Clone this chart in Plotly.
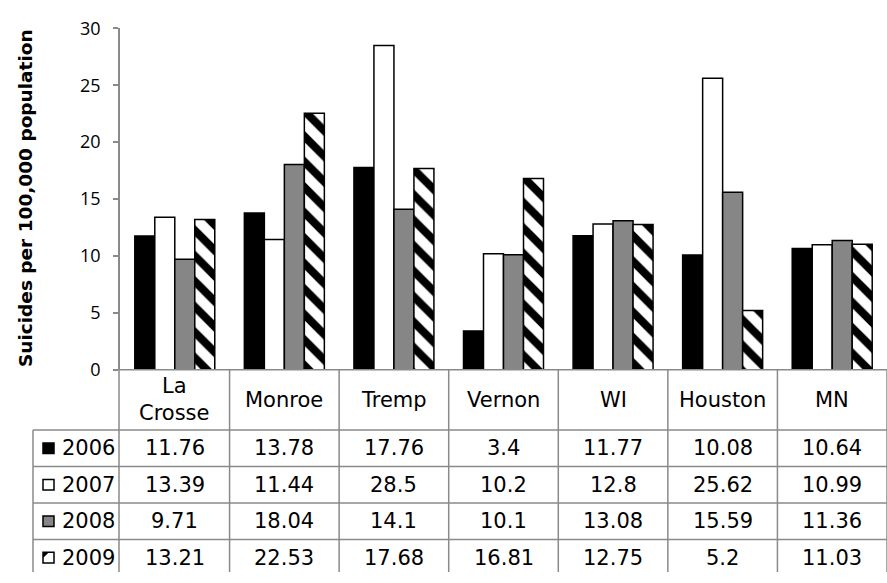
import plotly.graph_objects as go

# Suicide rates per 100,000 population by area and year
categories = ["La Crosse", "Monroe", "Tremp", "Vernon", "WI", "Houston", "MN"]
years = ["2006", "2007", "2008", "2009"]
rates_2006 = [11.76, 13.78, 17.76, 3.4, 11.77, 10.08, 10.64]
rates_2007 = [13.39, 11.44, 28.5, 10.2, 12.8, 25.62, 10.99]
rates_2008 = [9.71, 18.04, 14.1, 10.1, 13.08, 15.59, 11.36]
rates_2009 = [13.21, 22.53, 17.68, 16.81, 12.75, 5.2, 11.03]
series = [rates_2006, rates_2007, rates_2008, rates_2009]
y_ticks = [0, 5, 10, 15, 20, 25, 30]

W, H = 887, 583
GRID = "#8a8a8a"
TABLE_FONT = dict(family="DejaVu Sans", size=21, color="black")

# plot area and table layout, in pixels
PLOT_L, PLOT_T, PLOT_B = 120, 16, 372
HEAD_B = 435
ROW_H = 38
LEG_L = 33


def px(x):
    return x / W


def py(y):
    return 1 - y / H


fills = ["#000000", "#ffffff", "#868686", "#ffffff"]

fig = go.Figure()
for i, (yr, vals) in enumerate(zip(years, series)):
    marker = dict(color=fills[i], line=dict(color="black", width=1.5))
    if i == 3:
        marker["pattern"] = dict(shape="\\", fgcolor="black", bgcolor="white",
                                 fgopacity=1, size=18, solidity=0.45,
                                 fillmode="overlay")
    fig.add_bar(x=categories, y=vals, name=yr, marker=marker, showlegend=False)

shapes = []
annotations = []

# table top border (category axis line)
shapes.append(dict(type="line", xref="paper", yref="paper",
                   x0=px(PLOT_L - 1), x1=1, y0=py(PLOT_B), y1=py(PLOT_B),
                   line=dict(color=GRID, width=1.5)))
# y-axis line continued down through the table
shapes.append(dict(type="line", xref="paper", yref="paper",
                   x0=px(PLOT_L - 1), x1=px(PLOT_L - 1), y0=py(PLOT_T), y1=0,
                   line=dict(color=GRID, width=1.5)))
# column separators
for k in range(1, len(categories) + 1):
    shapes.append(dict(type="line", xref="x", yref="paper",
                       x0=k - 0.5, x1=k - 0.5, y0=py(PLOT_B), y1=0,
                       line=dict(color=GRID, width=1.5)))
# row separators
for r in range(len(years)):
    yy = HEAD_B + r * ROW_H
    shapes.append(dict(type="line", xref="paper", yref="paper",
                       x0=px(LEG_L), x1=1, y0=py(yy), y1=py(yy),
                       line=dict(color=GRID, width=1.5)))
# legend column left border
shapes.append(dict(type="line", xref="paper", yref="paper",
                   x0=px(LEG_L), x1=px(LEG_L), y0=py(HEAD_B), y1=0,
                   line=dict(color=GRID, width=1.5)))

# header row: category names
for c in categories:
    annotations.append(dict(x=c, y=py((PLOT_B + HEAD_B) / 2), xref="x", yref="paper",
                            text=c.replace(" ", "<br>"), showarrow=False,
                            font=TABLE_FONT, xanchor="center", yanchor="middle"))

# data rows with legend keys
for r, (yr, vals) in enumerate(zip(years, series)):
    cy = HEAD_B + r * ROW_H + ROW_H / 2
    for c, v in zip(categories, vals):
        annotations.append(dict(x=c, y=py(cy), xref="x", yref="paper",
                                text=f"{v:g}", showarrow=False, font=TABLE_FONT,
                                xanchor="center", yanchor="middle"))
    annotations.append(dict(x=px(60), y=py(cy), xref="paper", yref="paper",
                            text=yr, showarrow=False, font=TABLE_FONT,
                            xanchor="left", yanchor="middle"))
    k0, k1 = 43, 54
    shapes.append(dict(type="rect", xref="paper", yref="paper",
                       x0=px(k0), x1=px(k1), y0=py(cy - 5.5), y1=py(cy + 5.5),
                       fillcolor=fills[r], line=dict(color="black", width=1.5)))
    if r == 3:
        # hatch corner inside the key square
        path = (f"M {px(k0)},{py(cy - 5.5)} L {px(k0 + 6)},{py(cy - 5.5)} "
                f"L {px(k0)},{py(cy + 0.5)} Z")
        shapes.append(dict(type="path", xref="paper", yref="paper", path=path,
                           fillcolor="black", line=dict(width=0)))

# y-axis title
annotations.append(dict(x=px(25), y=py(193), xref="paper", yref="paper",
                        text="<b>Suicides per 100,000 population</b>", textangle=-90,
                        showarrow=False, xanchor="center", yanchor="middle",
                        font=dict(family="DejaVu Sans", size=18.5, color="black")))

fig.update_layout(
    width=W, height=H,
    margin=dict(l=0, r=0, t=0, b=0),
    paper_bgcolor="white", plot_bgcolor="white",
    barmode="group", bargap=0.27, bargroupgap=0,
    shapes=shapes, annotations=annotations,
    xaxis=dict(domain=[px(PLOT_L), 1], range=[-0.5, len(categories) - 0.5],
               showticklabels=False, showline=False, showgrid=False,
               zeroline=False, ticks=""),
    yaxis=dict(domain=[py(PLOT_B), py(PLOT_T)], range=[0, 30],
               tickvals=y_ticks, showgrid=False, zeroline=False,
               showline=True, linecolor=GRID, linewidth=1.5,
               ticks="outside", ticklen=5, tickcolor=GRID, tickwidth=1.5,
               ticklabelstandoff=9,
               tickfont=dict(family="Open Sans", size=18, color="black")),
)

fig.write_html("out.html")
